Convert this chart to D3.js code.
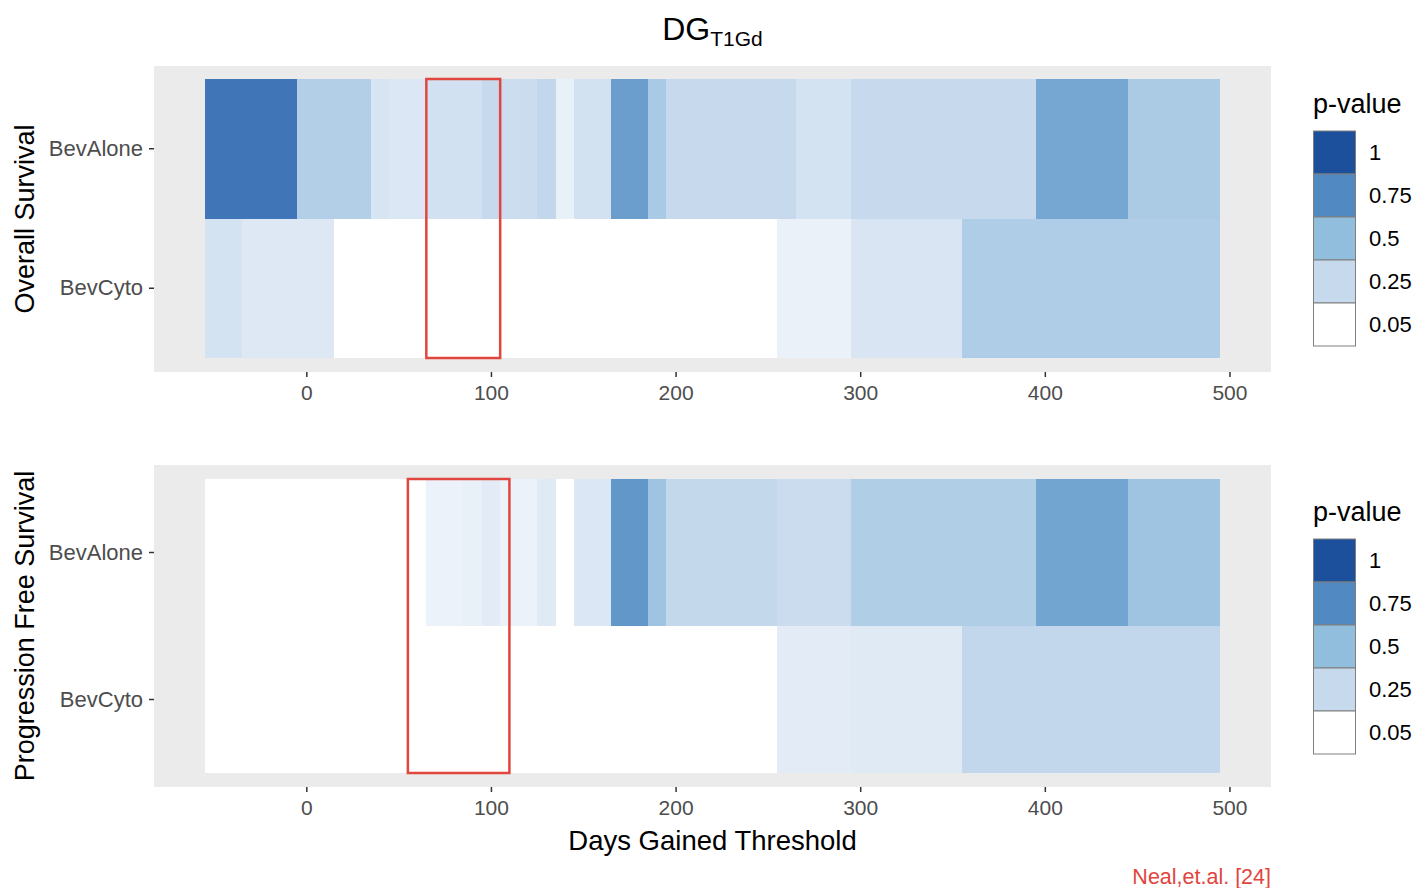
<!DOCTYPE html>
<html lang="en">
<head>
  <meta charset="utf-8">
  <title>DG T1Gd heatmap</title>
  <style>
    body { margin: 0; background: #ffffff; }
    svg { display: block; font-family: "Liberation Sans", Arial, Helvetica, sans-serif; }
    .tick text { fill: #4d4d4d; }
  </style>
</head>
<body>

<div id="chart"></div>

<script src="https://cdn.jsdelivr.net/npm/d3@7"></script>
<script>

  ////////////////////////////////////////////////// DATA

  // threshold bins (days gained), each tile 10 days wide
  var days = [-50, -40, -30, -20, -10, 0, 10, 20, 30, 40, 50, 60, 70, 80, 90, 100, 110, 120, 130, 140,
              150, 160, 170, 180, 190, 200, 210, 220, 230, 240, 250, 260, 270, 280, 290, 300, 310, 320,
              330, 340, 350, 360, 370, 380, 390, 400, 410, 420, 430, 440, 450, 460, 470, 480, 490];

  var groups = ["BevAlone", "BevCyto"];

  // Overall Survival p-values
  var osBevAlone = [0.83, 0.83, 0.83, 0.83, 0.83, 0.34, 0.34, 0.34, 0.34, 0.19, 0.175, 0.175, 0.21, 0.21, 0.21,
                    0.25, 0.23, 0.235, 0.27, 0.13, 0.205, 0.205, 0.65, 0.65, 0.39, 0.25, 0.25, 0.25, 0.25,
                    0.25, 0.25, 0.25, 0.2, 0.2, 0.2, 0.245, 0.245, 0.245, 0.245, 0.245, 0.245, 0.245, 0.245,
                    0.245, 0.245, 0.61, 0.61, 0.61, 0.61, 0.61, 0.38, 0.38, 0.38, 0.38, 0.38];
  var osBevCyto  = [0.2, 0.2, 0.17, 0.17, 0.17, 0.17, 0.17, 0.05, 0.05, 0.05, 0.05, 0.05, 0.05, 0.05, 0.05,
                    0.05, 0.05, 0.05, 0.05, 0.05, 0.05, 0.05, 0.05, 0.05, 0.05, 0.05, 0.05, 0.05, 0.05,
                    0.05, 0.05, 0.125, 0.125, 0.125, 0.125, 0.185, 0.185, 0.185, 0.185, 0.185, 0.185, 0.36,
                    0.36, 0.36, 0.36, 0.36, 0.36, 0.36, 0.36, 0.36, 0.36, 0.36, 0.36, 0.36, 0.36];

  // Progression Free Survival p-values
  var pfsBevAlone = [0.05, 0.05, 0.05, 0.05, 0.05, 0.05, 0.05, 0.05, 0.05, 0.05, 0.05, 0.05, 0.12, 0.12, 0.13,
                     0.15, 0.12, 0.12, 0.16, 0.05, 0.175, 0.175, 0.685, 0.685, 0.44, 0.26, 0.26, 0.26, 0.26,
                     0.26, 0.26, 0.235, 0.235, 0.235, 0.235, 0.35, 0.35, 0.35, 0.35, 0.35, 0.35, 0.35, 0.35,
                     0.35, 0.35, 0.62, 0.62, 0.62, 0.62, 0.62, 0.44, 0.44, 0.44, 0.44, 0.44];
  var pfsBevCyto  = [0.05, 0.05, 0.05, 0.05, 0.05, 0.05, 0.05, 0.05, 0.05, 0.05, 0.05, 0.05, 0.05, 0.05, 0.05,
                     0.05, 0.05, 0.05, 0.05, 0.05, 0.05, 0.05, 0.05, 0.05, 0.05, 0.05, 0.05, 0.05, 0.05,
                     0.05, 0.05, 0.15, 0.15, 0.15, 0.15, 0.16, 0.16, 0.16, 0.16, 0.16, 0.16, 0.27, 0.27,
                     0.27, 0.27, 0.27, 0.27, 0.27, 0.27, 0.27, 0.27, 0.27, 0.27, 0.27, 0.27];

  // highlighted window [from, to] in days
  var osHighlight = [65, 105];
  var pfsHighlight = [55, 110];

  var xTicks = [0, 100, 200, 300, 400, 500];
  var legendBreaks = [1, 0.75, 0.5, 0.25, 0.05];
  var legendColors = ["#1c4f9c", "#5189c3", "#92bedd", "#c6d9ed", "#ffffff"];

  ////////////////////////////////////////////////// SETUP

  var width = 1416, height = 888;
  var panelLeft = 154, panelRight = 1271;

  var svg = d3.select("#chart").append("svg")
    .attr("width", width)
    .attr("height", height);

  // x scale: tiles span -55..495, ggplot style 5% expansion
  var x = d3.scaleLinear().domain([-82.5, 522.5]).range([panelLeft, panelRight]);

  var color = d3.scaleLinear()
    .domain(legendBreaks.slice().reverse())
    .range(legendColors.slice().reverse())
    .clamp(true);

  var panels = [
    { title: "Overall Survival", rows: [osBevAlone, osBevCyto], bg: [66, 372], tiles: [79, 358], box: osHighlight, legendTop: 131 },
    { title: "Progression Free Survival", rows: [pfsBevAlone, pfsBevCyto], bg: [465, 787], tiles: [479, 773], box: pfsHighlight, legendTop: 539 }
  ];

  // title with subscript
  var title = svg.append("text")
    .attr("x", (panelLeft + panelRight) / 2)
    .attr("y", 40)
    .attr("text-anchor", "middle")
    .attr("fill", "#000")
    .style("font-size", "32px");
  title.append("tspan").text("DG");
  title.append("tspan").attr("dy", 6).style("font-size", "21px").text("T1Gd");

  panels.forEach(function(p) {
    var g = svg.append("g");

    var y = d3.scaleBand().domain(groups).range(p.tiles).padding(0);

    // panel background
    g.append("rect")
      .attr("x", panelLeft)
      .attr("y", p.bg[0])
      .attr("width", panelRight - panelLeft)
      .attr("height", p.bg[1] - p.bg[0])
      .attr("fill", "#ebebeb");

    // tiles
    p.rows.forEach(function(vals, r) {
      g.selectAll(null)
        .data(vals)
        .enter()
        .append("rect")
        .attr("x", function(d, i) { return x(days[i] - 5); })
        .attr("y", y(groups[r]))
        .attr("width", function(d, i) { return x(days[i] + 5) - x(days[i] - 5); })
        .attr("height", y.bandwidth())
        .attr("shape-rendering", "crispEdges")
        .attr("fill", function(d) { return color(d); });
    });

    // highlight box
    g.append("rect")
      .attr("x", x(p.box[0]))
      .attr("y", p.tiles[0])
      .attr("width", x(p.box[1]) - x(p.box[0]))
      .attr("height", p.tiles[1] - p.tiles[0])
      .attr("fill", "none")
      .attr("stroke", "#e0463e")
      .attr("stroke-width", 2.5);

    // x axis
    var xa = g.append("g")
      .attr("transform", "translate(0," + p.bg[1] + ")")
      .call(d3.axisBottom(x).tickValues(xTicks).tickSize(5).tickPadding(8));
    xa.select(".domain").remove();
    xa.selectAll(".tick line").attr("stroke", "#333333").attr("stroke-width", 1.5);
    xa.selectAll(".tick text").style("font-size", "21px");

    // y axis
    var ya = g.append("g")
      .attr("transform", "translate(" + panelLeft + ",0)")
      .call(d3.axisLeft(y).tickSize(5).tickPadding(6));
    ya.select(".domain").remove();
    ya.selectAll(".tick line").attr("stroke", "#333333").attr("stroke-width", 1.5);
    ya.selectAll(".tick text").style("font-size", "22px");

    // y title
    g.append("text")
      .attr("transform", "translate(34," + ((p.bg[0] + p.bg[1]) / 2) + ")rotate(-90)")
      .attr("text-anchor", "middle")
      .attr("fill", "#000")
      .style("font-size", "27px")
      .text(p.title);

    // legend
    var lg = g.append("g").attr("transform", "translate(1313," + p.legendTop + ")");
    lg.append("text")
      .attr("x", 0)
      .attr("y", -18)
      .attr("fill", "#000")
      .style("font-size", "27px")
      .text("p-value");
    lg.selectAll(null)
      .data(legendBreaks)
      .enter()
      .append("rect")
      .attr("x", 0.5)
      .attr("y", function(d, i) { return i * 43; })
      .attr("width", 42)
      .attr("height", 43)
      .attr("fill", function(d) { return color(d); })
      .attr("stroke", "#7f7f7f")
      .attr("stroke-width", 1);
    lg.selectAll(null)
      .data(legendBreaks)
      .enter()
      .append("text")
      .attr("x", 56)
      .attr("y", function(d, i) { return i * 43 + 21.5; })
      .attr("dy", "0.35em")
      .attr("fill", "#000")
      .style("font-size", "22px")
      .text(function(d) { return d; });
  });

  // x title
  svg.append("text")
    .attr("x", (panelLeft + panelRight) / 2)
    .attr("y", 850)
    .attr("text-anchor", "middle")
    .attr("fill", "#000")
    .style("font-size", "27.5px")
    .text("Days Gained Threshold");

  // citation
  svg.append("text")
    .attr("x", panelRight)
    .attr("y", 884)
    .attr("text-anchor", "end")
    .attr("fill", "#e0463e")
    .style("font-size", "21.5px")
    .text("Neal,et.al. [24]");

</script>
</body>
</html>
